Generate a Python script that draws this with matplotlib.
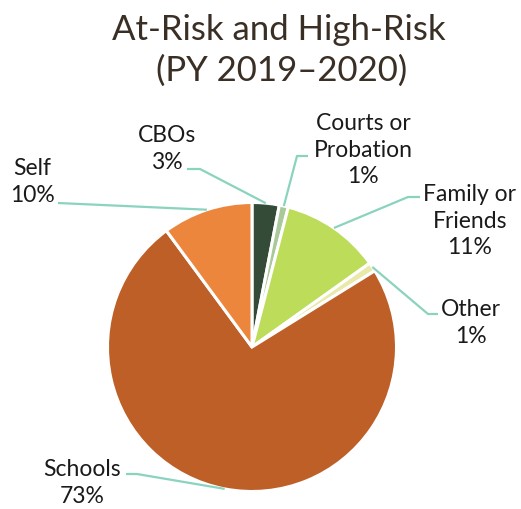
import numpy as np
import matplotlib
matplotlib.use("Agg")
import matplotlib.pyplot as plt

# Referral sources, PY 2019-2020
categories = ["CBOs", "Courts or\nProbation", "Family or\nFriends", "Other", "Schools", "Self"]
shares = [3, 1, 11, 1, 73, 10]
colors = ["#344b38", "#a9c99a", "#bcdc5a", "#e9e9aa", "#bd5f26", "#ed863d"]

# label centres and leader elbows, in pixel coordinates of the figure
label_pos = [(167, 149), (363, 150), (470, 221), (471, 323), (82, 483), (32, 182)]
elbows = [
    [(200, 170), (187, 170)],
    [(297, 157), (308, 157)],
    [(408, 198), (420, 198)],
    [(428, 315), (438, 315)],
    [(137, 475), (126, 475)],
    [(58, 204)],
]

W, H = 521, 510
CX, CY, R = 252, 348, 144.5

plt.rcParams["font.family"] = ["Lato", "DejaVu Sans"]

fig = plt.figure(figsize=(W / 100, H / 100), dpi=100)
ax = fig.add_axes([(CX - R) / W, (H - CY - R) / H, 2 * R / W, 2 * R / H])


def to_data(x, y):
    return ((x - CX) / R, (CY - y) / R)


wedges, _ = ax.pie(shares, colors=colors, startangle=90, counterclock=False,
                   radius=1, wedgeprops=dict(edgecolor="white", linewidth=2.2))
ax.set_xlim(-1, 1)
ax.set_ylim(-1, 1)
ax.set_aspect("equal")
ax.axis("off")

lead_color = "#8ad3bf"
for w, name, val, pos, elb in zip(wedges, categories, shares, label_pos, elbows):
    mid = np.deg2rad((w.theta1 + w.theta2) / 2)
    pts = [(np.cos(mid), np.sin(mid))] + [to_data(*p) for p in elb]
    xs, ys = zip(*pts)
    ax.plot(xs, ys, color=lead_color, lw=1.6, clip_on=False, solid_capstyle="butt")
    tx, ty = to_data(*pos)
    ax.text(tx, ty, f"{name}\n{val}%", ha="center", va="center", fontsize=16.5,
            color="#1a1a1a", linespacing=1.3, clip_on=False)

fig.text(0.535, 1 - 30 / H, "At-Risk and High-Risk", ha="center", va="center",
         fontsize=25, color="#3a2f25")
fig.text(0.54, 1 - 71 / H, "(PY 2019\u20132020)", ha="center", va="center",
         fontsize=25, color="#3a2f25")

fig.savefig("out.png", dpi=100, facecolor="white")
